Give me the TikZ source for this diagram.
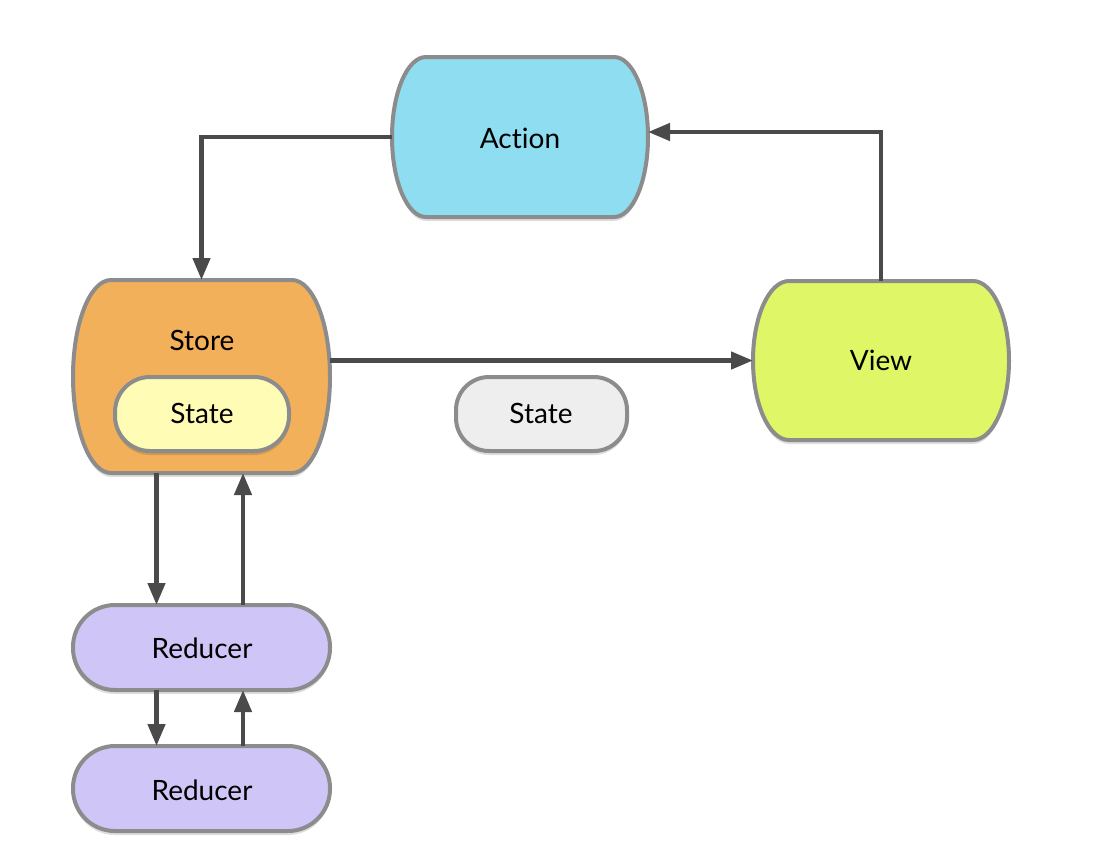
\documentclass[tikz,border=0pt]{standalone}
\usepackage{fontspec}
\setmainfont[Ligatures={NoCommon,NoRare,NoDiscretionary,NoContextual}]{Lato}
\usetikzlibrary{arrows.meta}
\definecolor{actionc}{HTML}{8EDDF0}
\definecolor{storec}{HTML}{F2B05A}
\definecolor{statec}{HTML}{FFFCB5}
\definecolor{grayc}{HTML}{EEEEEE}
\definecolor{viewc}{HTML}{DFF766}
\definecolor{reducerc}{HTML}{CFC6F7}
\definecolor{borderc}{HTML}{8C8C8C}
\definecolor{linec}{HTML}{4A4A4A}
\tikzset{
  boxline/.style={draw=borderc, line width=4pt},
  shade/.style={fill=black, opacity=0.13},
  geom/.style={inner sep=0pt, outer sep=0pt, draw=none},
  lbl/.style={anchor=base, inner sep=0pt, font=\fontsize{28}{34}\selectfont, text=black},
  arr/.style={draw=linec, line width=4.5pt, -{Triangle[length=22pt, width=17pt]}},
}
% name, L, T, R, B, inset a, fill
\newcommand{\barrelbox}[7]{%
  \node[geom, minimum width={#4-#2}, minimum height={#5-#3}] (#1) at ({(#2+#4)/2},{(#3+#5)/2}) {};
  \fill[shade] (#4-#6,#3+4) arc[start angle=-90, end angle=90, x radius=#6, y radius={(#5-#3)/2}]
     -- (#2+#6,#5+4) arc[start angle=90, end angle=270, x radius=#6, y radius={(#5-#3)/2}] -- cycle;
  \draw[boxline, fill=#7] (#4-#6,#3) arc[start angle=-90, end angle=90, x radius=#6, y radius={(#5-#3)/2}]
     -- (#2+#6,#5) arc[start angle=90, end angle=270, x radius=#6, y radius={(#5-#3)/2}] -- cycle;
}
% name, L, T, R, B, radius, fill
\newcommand{\pillbox}[7]{%
  \node[geom, minimum width={#4-#2}, minimum height={#5-#3}] (#1) at ({(#2+#4)/2},{(#3+#5)/2}) {};
  \fill[shade, rounded corners=#6] (#2,#3+4) rectangle (#4,#5+4);
  \draw[boxline, fill=#7, rounded corners=#6] (#2,#3) rectangle (#4,#5);
}
\begin{document}
\begin{tikzpicture}[x=1pt, y=-1pt]
\useasboundingbox (0,0) rectangle (1102,860);
\fill[white] (0,0) rectangle (1102,860);

\barrelbox{action}{392}{57}{648}{217}{34}{actionc}
\node[lbl] (actiontext) at (520,148) {Action};

\barrelbox{store}{73}{280}{330}{473}{38}{storec}
\node[lbl] (storetext) at (202,350) {Store};
\pillbox{innerstate}{115}{377}{289}{451}{35}{statec}
\node[lbl] (innerstatetext) at (202,423) {State};

\barrelbox{view}{753}{281}{1009}{440}{36}{viewc}
\node[lbl] (viewtext) at (881,370) {View};

\pillbox{graystate}{456}{377}{627}{451}{33}{grayc}
\node[lbl] (graystatetext) at (541,423) {State};

\pillbox{red1}{73}{605}{330}{690}{42}{reducerc}
\node[lbl] (red1text) at (202,658) {Reducer};
\pillbox{red2}{73}{746}{330}{831}{42}{reducerc}
\node[lbl] (red2text) at (202,800) {Reducer};

% connectors
\draw[arr] (action.west) -| (store.north);
\draw[arr] (view.north) |- ([yshift=5pt]action.east);
\draw[arr] (store.east |- view.west) -- (view.west);
\draw[arr] ([xshift=-45pt]store.south) -- ([xshift=-45pt]red1.north);
\draw[arr] ([xshift=41.5pt]red1.north) -- ([xshift=41.5pt]store.south);
\draw[arr] ([xshift=-45pt]red1.south) -- ([xshift=-45pt]red2.north);
\draw[arr] ([xshift=41.5pt]red2.north) -- ([xshift=41.5pt]red1.south);
\end{tikzpicture}
\end{document}
